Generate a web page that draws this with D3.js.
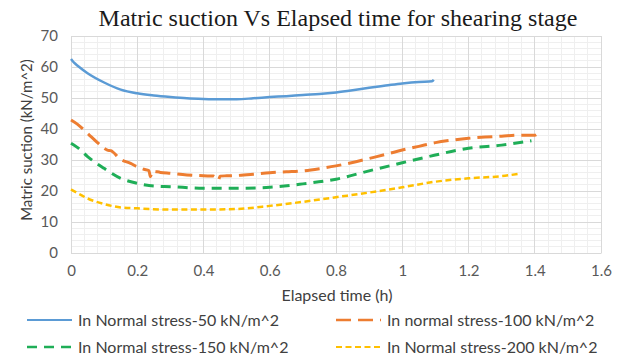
<!DOCTYPE html>
<html>
<head>
<meta charset="utf-8">
<script src="https://cdn.jsdelivr.net/npm/d3@7"></script>
<style>
  html, body { margin: 0; padding: 0; background: #fff; }
  svg { display: block; }
  .tick text { font-family: Lato, "Open Sans", sans-serif; font-size: 15px; fill: #595959; }
</style>
</head>
<body>
<svg id="chart" width="622" height="358"></svg>
<script>
// Matric suction readings (kN/m^2) over elapsed time (h) for each normal stress
const time50  = [0, 0.01, 0.02, 0.05, 0.1, 0.15, 0.2, 0.25, 0.3, 0.35, 0.4, 0.45, 0.5, 0.55, 0.6, 0.65, 0.7, 0.75, 0.8, 0.85, 0.9, 0.95, 1.0, 1.05, 1.09, 1.095];
const suction50 = [62.6, 61.3, 60.4, 58.0, 55.0, 52.7, 51.5, 50.8, 50.3, 49.9, 49.7, 49.6, 49.6, 49.9, 50.3, 50.6, 51.0, 51.3, 51.8, 52.5, 53.3, 54.0, 54.7, 55.2, 55.4, 55.9];

const time100 = [0, 0.02, 0.05, 0.08, 0.1, 0.11, 0.12, 0.15, 0.18, 0.2, 0.22, 0.235, 0.24, 0.245, 0.27, 0.3, 0.35, 0.4, 0.43, 0.445, 0.45, 0.47, 0.5, 0.55, 0.6, 0.65, 0.7, 0.75, 0.8, 0.85, 0.9, 0.95, 1.0, 1.05, 1.1, 1.15, 1.2, 1.25, 1.3, 1.35, 1.4, 1.41];
const suction100 = [42.9, 41.5, 38.6, 35.6, 33.8, 33.2, 33.0, 30.2, 28.9, 27.8, 27.0, 26.6, 24.6, 26.4, 26.0, 25.7, 25.2, 24.9, 24.8, 23.5, 24.8, 24.9, 25.0, 25.4, 25.9, 26.2, 26.5, 27.2, 28.1, 29.2, 30.5, 31.8, 33.2, 34.4, 35.6, 36.4, 37.0, 37.4, 37.7, 38.0, 38.0, 38.6];

const time150 = [0, 0.02, 0.05, 0.1, 0.15, 0.2, 0.25, 0.3, 0.4, 0.5, 0.6, 0.7, 0.8, 0.9, 1.0, 1.1, 1.2, 1.3, 1.39];
const suction150 = [35.4, 34.0, 31.1, 27.3, 24.1, 22.5, 21.6, 21.4, 20.9, 20.9, 21.2, 22.3, 23.8, 26.5, 29.1, 31.6, 33.8, 34.8, 36.2];

const time200 = [0, 0.02, 0.05, 0.1, 0.15, 0.2, 0.3, 0.4, 0.5, 0.6, 0.7, 0.8, 0.9, 1.0, 1.1, 1.2, 1.3, 1.35];
const suction200 = [20.5, 19.3, 17.6, 15.8, 14.7, 14.4, 14.0, 14.0, 14.2, 15.2, 16.5, 18.0, 19.5, 21.2, 23.0, 24.1, 24.8, 25.5];

const seriesNames = [
  "In Normal stress-50 kN/m^2",
  "In normal stress-100 kN/m^2",
  "In Normal stress-150 kN/m^2",
  "In Normal stress-200 kN/m^2"
];
const xTicks = [0, 0.2, 0.4, 0.6, 0.8, 1, 1.2, 1.4, 1.6];
const yTicks = [0, 10, 20, 30, 40, 50, 60, 70];

const series = [
  { name: seriesNames[0], t: time50,  v: suction50,  color: "#5b9bd5", width: 2.5, dash: null },
  { name: seriesNames[1], t: time100, v: suction100, color: "#ed7d31", width: 3,   dash: "15,7" },
  { name: seriesNames[2], t: time150, v: suction150, color: "#1fae57", width: 3,   dash: "10,7" },
  { name: seriesNames[3], t: time200, v: suction200, color: "#ffc000", width: 2.5, dash: "6,3.5" }
];

const sans = "Lato, 'Open Sans', sans-serif";
const svg = d3.select("#chart");
const plot = { left: 71, right: 601, top: 36, bottom: 253 };

const x = d3.scaleLinear().domain([0, 1.6]).range([plot.left, plot.right]);
const y = d3.scaleLinear().domain([0, 70]).range([plot.bottom, plot.top]);

// minor gridlines
const g = svg.append("g");
g.selectAll("line.minx").data(d3.range(0, 1.6001, 0.04)).enter().append("line")
  .attr("x1", d => x(d)).attr("x2", d => x(d))
  .attr("y1", plot.top).attr("y2", plot.bottom)
  .attr("stroke", "#efefef").attr("stroke-width", 1).attr("shape-rendering", "crispEdges");
g.selectAll("line.miny").data(d3.range(0, 70.001, 2)).enter().append("line")
  .attr("x1", plot.left).attr("x2", plot.right)
  .attr("y1", d => y(d)).attr("y2", d => y(d))
  .attr("stroke", "#efefef").attr("stroke-width", 1).attr("shape-rendering", "crispEdges");

// major gridlines
g.selectAll("line.majx").data(xTicks).enter().append("line")
  .attr("x1", d => x(d)).attr("x2", d => x(d))
  .attr("y1", plot.top).attr("y2", plot.bottom)
  .attr("stroke", "#d9d9d9").attr("stroke-width", 1).attr("shape-rendering", "crispEdges");
g.selectAll("line.majy").data(yTicks).enter().append("line")
  .attr("x1", plot.left).attr("x2", plot.right)
  .attr("y1", d => y(d)).attr("y2", d => y(d))
  .attr("stroke", "#d9d9d9").attr("stroke-width", 1).attr("shape-rendering", "crispEdges");

// axes
const xAxis = svg.append("g")
  .attr("transform", `translate(0,${plot.bottom})`)
  .call(d3.axisBottom(x).tickValues(xTicks).tickSize(0).tickPadding(12).tickFormat(d3.format("~g")));
xAxis.select(".domain").attr("stroke", "#d9d9d9");

const yAxis = svg.append("g")
  .attr("transform", `translate(${plot.left},0)`)
  .call(d3.axisLeft(y).tickValues(yTicks).tickSize(0).tickPadding(13));
yAxis.select(".domain").remove();

// series lines
const line = d3.line().x(d => x(d[0])).y(d => y(d[1])).curve(d3.curveMonotoneX);
series.forEach(s => {
  svg.append("path")
    .datum(s.t.map((t, i) => [t, s.v[i]]))
    .attr("d", line)
    .attr("fill", "none")
    .attr("stroke", s.color)
    .attr("stroke-width", s.width)
    .attr("stroke-dasharray", s.dash)
    .attr("stroke-linejoin", "round");
});

// titles
svg.append("text")
  .attr("x", 338).attr("y", 26)
  .attr("text-anchor", "middle")
  .attr("font-family", "'Liberation Serif', 'DejaVu Serif', serif")
  .attr("font-size", 24)
  .attr("fill", "#1a1a1a")
  .text("Matric suction Vs Elapsed time for shearing stage");

svg.append("text")
  .attr("x", 337).attr("y", 301)
  .attr("text-anchor", "middle")
  .attr("font-family", sans)
  .attr("font-size", 16)
  .attr("fill", "#404040")
  .text("Elapsed time (h)");

svg.append("text")
  .attr("transform", "translate(32,140) rotate(-90)")
  .attr("text-anchor", "middle")
  .attr("font-family", sans)
  .attr("font-size", 15)
  .attr("fill", "#404040")
  .text("Matric suction (kN/m^2)");

// legend
const legendPos = [
  { x: 27, y: 320 }, { x: 336, y: 320 },
  { x: 27, y: 347 }, { x: 336, y: 347 }
];
series.forEach((s, i) => {
  const p = legendPos[i];
  svg.append("line")
    .attr("x1", p.x).attr("x2", p.x + 45)
    .attr("y1", p.y).attr("y2", p.y)
    .attr("stroke", s.color)
    .attr("stroke-width", s.width - 0.5)
    .attr("stroke-dasharray", s.dash);
  svg.append("text")
    .attr("x", p.x + 51).attr("y", p.y + 5.5)
    .attr("font-family", sans)
    .attr("font-size", 16)
    .attr("fill", "#404040")
    .text(s.name);
});
</script>
</body>
</html>
